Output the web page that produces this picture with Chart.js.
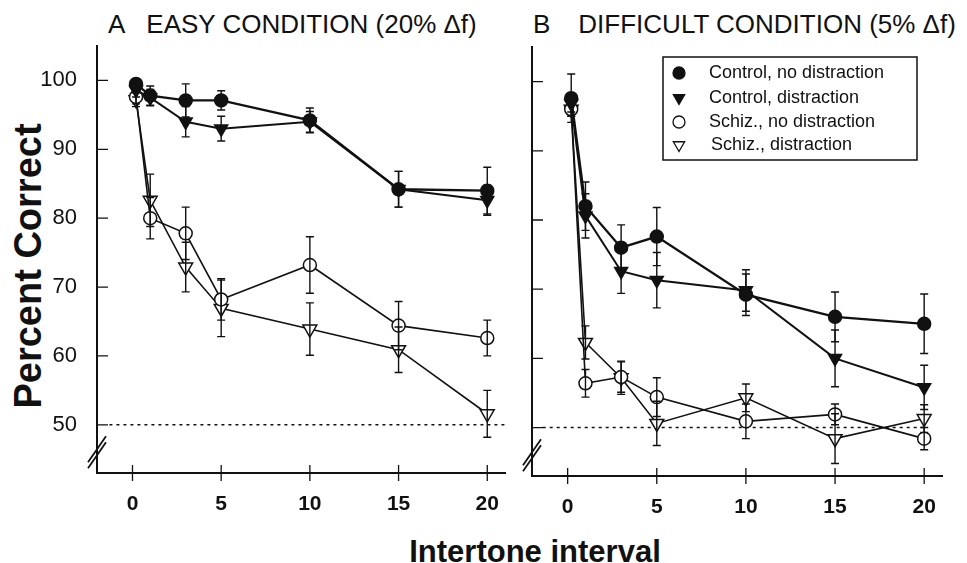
<!DOCTYPE html>
<html lang="en">
<head>
  <meta charset="UTF-8">
  <title>Percent correct by intertone interval</title>
  <script src="https://cdn.jsdelivr.net/npm/chart.js"></script>
  <style>
    body { margin: 0; background: #fff; }
    #wrap { position: relative; width: 967px; height: 563px; font-family: "Liberation Sans", Arial, sans-serif; color: #111; }
    .ttl { position: absolute; top: 11px; font-size: 26px; line-height: 26px; white-space: nowrap; }
    #ytitle { position: absolute; left: 28px; top: 266px; transform: translate(-50%, -50%) rotate(-90deg);
              font-size: 38px; font-weight: bold; white-space: nowrap; line-height: 38px; }
    #xtitle { position: absolute; left: 535px; top: 536px; transform: translateX(-50%);
              font-size: 31px; font-weight: bold; white-space: nowrap; line-height: 31px; }
    canvas { position: absolute; top: 0; }
  </style>
</head>
<body>
<div id="wrap">
  <div class="ttl" style="left:108px"><span>A</span><span style="margin-left:21px">EASY CONDITION (20% Δf)</span></div>
  <div class="ttl" style="left:533px"><span>B</span><span style="margin-left:28px">DIFFICULT CONDITION (5% Δf)</span></div>
  <div id="ytitle">Percent Correct</div>
  <div id="xtitle">Intertone interval</div>
  <canvas id="chartA" width="515" height="563" style="left:0"></canvas>
  <canvas id="chartB" width="452" height="563" style="left:515px"></canvas>
</div>
<script>
  // intertone intervals (x) and axis ticks
  const intervals = [0.2, 1, 3, 5, 10, 15, 20];
  const xTickValues = [0, 5, 10, 15, 20];
  const yTickValues = [50, 60, 70, 80, 90, 100];
  const seriesLabels = ['Control, no distraction', 'Control, distraction', 'Schiz., no distraction', 'Schiz., distraction'];

  // A: easy condition (20% delta f)
  const ctrlNoDistA = [99.5, 97.8, 97.1, 97.1, 94.2, 84.2, 84.0];
  const ctrlNoDistErrA = [0.6, 1.4, 2.4, 1.4, 1.8, 2.6, 3.4];
  const ctrlDistA = [98.6, 97.5, 94.0, 93.0, 94.0, 84.2, 82.6];
  const ctrlDistErrA = [1.0, 1.2, 2.2, 1.8, 1.5, 2.6, 2.2];
  const schizNoDistA = [97.6, 80.0, 77.8, 68.2, 73.2, 64.4, 62.6];
  const schizNoDistErrA = [1.0, 3.0, 3.8, 3.0, 4.1, 3.5, 2.6];
  const schizDistA = [97.2, 82.6, 72.9, 66.9, 63.9, 60.9, 51.6];
  const schizDistErrA = [1.0, 3.8, 3.6, 4.1, 3.8, 3.3, 3.4];

  // B: difficult condition (5% delta f)
  const ctrlNoDistB = [97.6, 82.0, 76.0, 77.6, 69.2, 66.0, 65.0];
  const ctrlNoDistErrB = [3.5, 3.5, 3.3, 4.2, 3.0, 3.6, 4.3];
  const ctrlDistB = [96.8, 80.6, 72.6, 71.3, 69.8, 60.0, 55.8];
  const ctrlDistErrB = [1.2, 3.2, 3.2, 4.0, 3.0, 4.1, 3.2];
  const schizNoDistB = [96.0, 56.4, 57.3, 54.4, 50.9, 51.9, 48.4];
  const schizNoDistErrB = [1.0, 2.0, 2.2, 2.8, 2.5, 1.5, 1.6];
  const schizDistB = [96.0, 62.3, 57.2, 50.6, 54.3, 48.4, 51.3];
  const schizDistErrB = [1.0, 2.4, 2.4, 3.2, 2.0, 3.6, 2.0];

  // chance level (dotted line)
  const chanceY = [50, 50];
  const chanceXA = [-1.3, 21];
  const chanceXB = [-1.4, 20];

  const INK = '#111';
  const FONT = '"Liberation Sans", Arial, sans-serif';
  Chart.defaults.font.family = FONT;
  Chart.defaults.color = INK;

  const markerStyles = [
    { pointStyle: 'circle', rotation: 0, fill: INK, radius: 6.5, line: 2.3 },
    { pointStyle: 'triangle', rotation: 180, fill: INK, radius: 7.5, line: 2.0 },
    { pointStyle: 'circle', rotation: 0, fill: '#fff', radius: 6.5, line: 1.6 },
    { pointStyle: 'triangle', rotation: 180, fill: '#fff', radius: 8, line: 1.6 }
  ];

  function seriesSet(values, errors, idx) {
    const m = markerStyles[idx];
    return {
      label: seriesLabels[idx],
      data: intervals.map((x, i) => ({ x: x, y: values[i] })),
      errors: errors,
      showLine: true,
      borderColor: INK,
      borderWidth: m.line,
      backgroundColor: m.fill,
      pointBackgroundColor: m.fill,
      pointBorderColor: INK,
      pointBorderWidth: 1.5,
      pointStyle: m.pointStyle,
      pointRotation: m.rotation,
      pointRadius: m.radius,
      tension: 0
    };
  }

  function chanceSet(xs) {
    return {
      label: 'chance',
      data: xs.map((x, i) => ({ x: x, y: chanceY[i] })),
      showLine: true,
      borderColor: INK,
      borderWidth: 1.5,
      borderDash: [3, 4],
      pointRadius: 0
    };
  }

  const errorBars = {
    id: 'errorBars',
    afterDatasetsDraw(chart) {
      const { ctx, scales: { x, y } } = chart;
      ctx.save();
      ctx.strokeStyle = INK;
      ctx.lineWidth = 1.4;
      chart.data.datasets.forEach(ds => {
        if (!ds.errors) return;
        ds.data.forEach((p, i) => {
          const e = ds.errors[i];
          const px = x.getPixelForValue(p.x);
          const top = y.getPixelForValue(p.y + e);
          const bot = y.getPixelForValue(p.y - e);
          ctx.beginPath();
          ctx.moveTo(px, top); ctx.lineTo(px, bot);
          ctx.moveTo(px - 4, top); ctx.lineTo(px + 4, top);
          ctx.moveTo(px - 4, bot); ctx.lineTo(px + 4, bot);
          ctx.stroke();
        });
      });
      ctx.restore();
    }
  };

  // inward y ticks, crossing x ticks and the axis break
  const axisDecor = {
    id: 'axisDecor',
    afterDraw(chart) {
      const { ctx, chartArea: a, scales: { x, y } } = chart;
      ctx.save();
      ctx.strokeStyle = INK;
      ctx.lineWidth = 1.3;
      ctx.beginPath();
      yTickValues.forEach(v => {
        const py = y.getPixelForValue(v);
        ctx.moveTo(a.left, py); ctx.lineTo(a.left + 11, py);
      });
      xTickValues.forEach(v => {
        const px = x.getPixelForValue(v);
        ctx.moveTo(px, a.bottom - 8); ctx.lineTo(px, a.bottom + 8);
      });
      ctx.stroke();
      const by = y.getPixelForValue(46);
      ctx.lineWidth = 1.8;
      ctx.beginPath();
      [-3, 3].forEach(o => {
        ctx.moveTo(a.left - 9, by + o + 13);
        ctx.lineTo(a.left + 9, by + o - 13);
      });
      ctx.stroke();
      ctx.restore();
    }
  };

  const boxLegend = {
    id: 'boxLegend',
    afterDraw(chart) {
      const { ctx, chartArea: a } = chart;
      const left = a.left + 131, top = a.top + 10, w = 254, h = 103;
      const rows = [16, 41, 65, 88];
      ctx.save();
      ctx.strokeStyle = INK;
      ctx.lineWidth = 1.5;
      ctx.strokeRect(left, top, w, h);
      ctx.font = '18px ' + FONT;
      ctx.textBaseline = 'middle';
      chart.data.datasets.slice(0, 4).forEach((ds, i) => {
        const m = markerStyles[i];
        ctx.fillStyle = m.fill;
        ctx.strokeStyle = INK;
        ctx.lineWidth = 1.3;
        Chart.helpers.drawPoint(ctx, {
          pointStyle: m.pointStyle, rotation: m.rotation,
          radius: m.pointStyle === 'circle' ? 6 : 6.5, borderWidth: 1.3
        }, left + 16, top + rows[i]);
        ctx.fillStyle = INK;
        ctx.fillText(ds.label, left + (i === 3 ? 48 : 46), top + rows[i]);
      });
      ctx.restore();
    }
  };

  function makeChart(id, sets, opts) {
    return new Chart(document.getElementById(id), {
      type: 'scatter',
      data: { datasets: sets },
      plugins: opts.plugins,
      options: {
        responsive: false,
        animation: false,
        devicePixelRatio: 1,
        layout: { padding: { top: opts.top, right: opts.right, left: 0, bottom: 0 } },
        plugins: { legend: { display: false }, tooltip: { enabled: false } },
        scales: {
          x: {
            type: 'linear', min: -2, max: 21,
            afterBuildTicks: s => { s.ticks = xTickValues.map(v => ({ value: v })); },
            afterFit: s => { s.height = opts.xHeight; },
            grid: { display: false },
            border: { display: true, color: INK, width: 2 },
            ticks: { font: { size: 21, weight: 'bold' }, color: INK, padding: 11, maxRotation: 0 }
          },
          y: {
            type: 'linear', min: 43, max: 105,
            afterBuildTicks: s => { s.ticks = yTickValues.map(v => ({ value: v })); },
            afterFit: s => { s.width = opts.yWidth; },
            grid: { display: false },
            border: { display: true, color: INK, width: 2 },
            ticks: { display: opts.yLabels, font: { size: 22 }, color: INK, padding: 12 }
          }
        }
      }
    });
  }

  makeChart('chartA', [
    seriesSet(ctrlNoDistA, ctrlNoDistErrA, 0),
    seriesSet(ctrlDistA, ctrlDistErrA, 1),
    seriesSet(schizNoDistA, schizNoDistErrA, 2),
    seriesSet(schizDistA, schizDistErrA, 3),
    chanceSet(chanceXA)
  ], { top: 46, right: 10, xHeight: 90, yWidth: 97, yLabels: true, plugins: [errorBars, axisDecor] });

  makeChart('chartB', [
    seriesSet(ctrlNoDistB, ctrlNoDistErrB, 0),
    seriesSet(ctrlDistB, ctrlDistErrB, 1),
    seriesSet(schizNoDistB, schizNoDistErrB, 2),
    seriesSet(schizDistB, schizDistErrB, 3),
    chanceSet(chanceXB)
  ], { top: 47, right: 25, xHeight: 87, yWidth: 17, yLabels: false, plugins: [errorBars, axisDecor, boxLegend] });
</script>
</body>
</html>
